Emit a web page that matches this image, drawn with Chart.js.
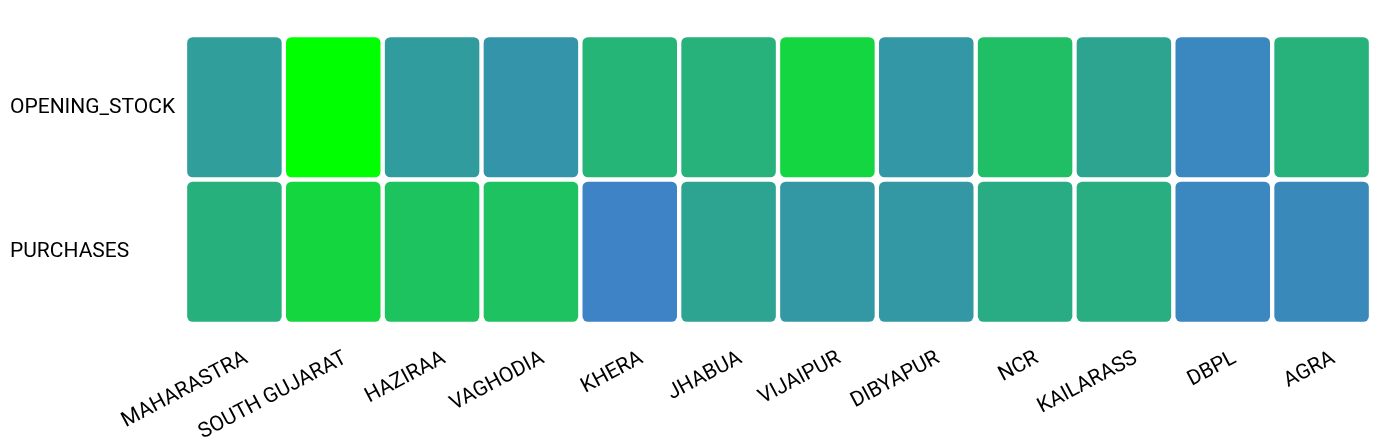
<!DOCTYPE html>
<html>
<head>
<meta charset="utf-8">
<script src="https://cdn.jsdelivr.net/npm/chart.js@4.4.1/dist/chart.umd.min.js"></script>
<style>
  body { margin: 0; background: #fff; }
  #wrap { width: 1380px; height: 445px; position: relative; }
</style>
</head>
<body>
<div id="wrap"><canvas id="heat-chart"></canvas></div>
<script>
const columns = ["MAHARASTRA", "SOUTH GUJARAT", "HAZIRAA", "VAGHODIA", "KHERA", "JHABUA",
  "VIJAIPUR", "DIBYAPUR", "NCR", "KAILARASS", "DBPL", "AGRA"];
const rows = ["OPENING_STOCK", "PURCHASES"];
const openingStock = [22, 100, 20, 14, 40, 38, 67, 16, 48, 27, 3, 38];
const purchases = [37, 68, 52, 51, 0, 26, 17, 17, 33, 35, 3, 5];

// colour scale: low -> blue, high -> green
const lowColor = [61, 131, 197];
const highColor = [0, 255, 0];
function heatColor(v) {
  const t = v / 100;
  const c = lowColor.map((l, i) => Math.round(l + (highColor[i] - l) * t));
  return `rgb(${c[0]}, ${c[1]}, ${c[2]})`;
}

const heatCanvas = document.getElementById("heat-chart");

// every cell takes one unit on the stacked y scale
const cellData = columns.map(() => 1);

const cellStyle = {
  borderWidth: 2.5,
  borderColor: "#ffffff",
  borderSkipped: false,
  // object form so every cell is rounded, not only the stack ends
  borderRadius: { topLeft: 8, topRight: 8, bottomLeft: 8, bottomRight: 8 },
  barPercentage: 1,
  categoryPercentage: 1,
};

const labelFont = { family: "Roboto", size: 21 };

let heatChart = new Chart(heatCanvas, {
  type: "bar",
  data: {
    labels: columns,
    datasets: [
      {
        label: rows[1],
        data: cellData,
        backgroundColor: purchases.map(heatColor),
        ...cellStyle,
      },
      {
        label: rows[0],
        data: cellData,
        backgroundColor: openingStock.map(heatColor),
        ...cellStyle,
      },
    ],
  },
  options: {
    responsive: true,
    maintainAspectRatio: false,
    animation: false,
    layout: {
      padding: { left: 10, right: 9, top: 35, bottom: 0 },
    },
    scales: {
      x: {
        stacked: true,
        grid: { display: false },
        border: { display: false },
        ticks: {
          minRotation: 28,
          maxRotation: 28,
          autoSkip: false,
          padding: 14,
          labelOffset: 12,
          color: "#000",
          font: labelFont,
        },
        afterFit: (scale) => {
          scale.height = 121;
        },
      },
      y: {
        stacked: true,
        display: false,
        min: 0,
        max: 2,
      },
      rowAxis: {
        type: "category",
        axis: "y",
        position: "left",
        labels: rows,
        offset: true,
        grid: { display: false },
        border: { display: false },
        ticks: {
          crossAlign: "far",
          color: "#000",
          font: labelFont,
        },
        afterFit: (scale) => {
          scale.width = 175;
        },
      },
    },
    plugins: {
      legend: { display: false },
      tooltip: { enabled: false },
    },
  },
});
</script>
</body>
</html>
